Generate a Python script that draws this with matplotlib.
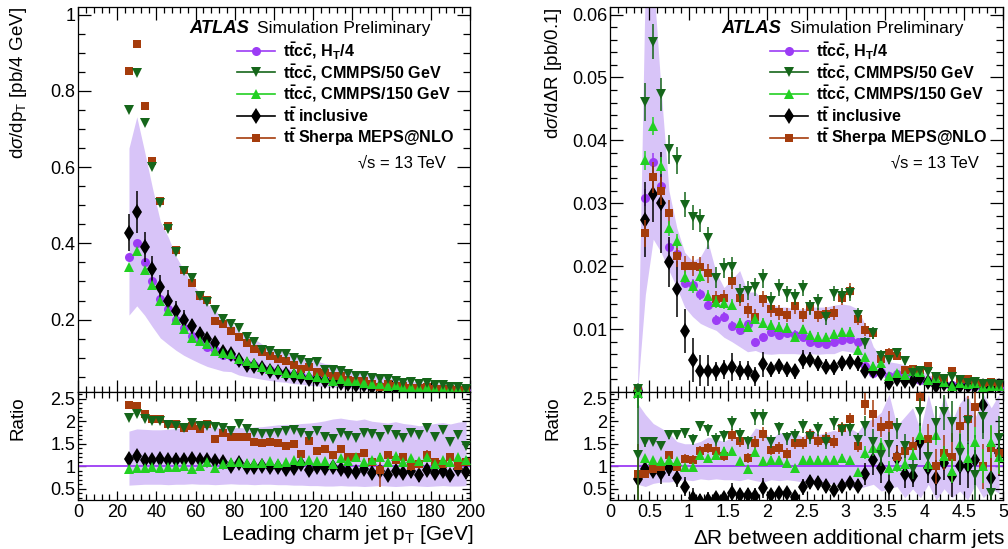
import matplotlib
matplotlib.use("Agg")
import matplotlib.pyplot as plt
import numpy as np
from matplotlib.ticker import MultipleLocator, FormatStrFormatter

plt.rcParams["font.family"] = ["Liberation Sans", "DejaVu Sans"]
plt.rcParams["mathtext.fontset"] = "custom"
plt.rcParams["mathtext.rm"] = "Liberation Sans"
plt.rcParams["mathtext.it"] = "Liberation Sans:italic"
plt.rcParams["mathtext.bf"] = "Liberation Sans:bold"

# ---------------- left: leading charm jet pT ----------------
pt = np.arange(26, 200, 4)  # bin centres, 4 GeV bins

purple_l = [0.365, 0.400, 0.352, 0.301, 0.253, 0.229, 0.199, 0.177, 0.157, 0.143, 0.128, 0.120, 0.108, 0.104, 0.091,
            0.084, 0.080, 0.072, 0.067, 0.063, 0.060, 0.055, 0.053, 0.048, 0.046, 0.042, 0.040, 0.037, 0.034, 0.032,
            0.030, 0.028, 0.026, 0.024, 0.023, 0.021, 0.020, 0.019, 0.018, 0.017, 0.016, 0.015, 0.014, 0.013]
dkgreen_l = [0.751, 0.846, 0.716, 0.599, 0.505, 0.438, 0.378, 0.328, 0.308, 0.262, 0.247, 0.226, 0.201, 0.188, 0.179,
             0.154, 0.142, 0.121, 0.118, 0.111, 0.109, 0.100, 0.095, 0.086, 0.089, 0.067, 0.068, 0.064, 0.057, 0.052,
             0.052, 0.048, 0.043, 0.043, 0.039, 0.034, 0.035, 0.032, 0.033, 0.028, 0.029, 0.023, 0.024, 0.019]
green_l = [0.339, 0.381, 0.330, 0.290, 0.249, 0.223, 0.198, 0.176, 0.152, 0.145, 0.135, 0.118, 0.112, 0.111, 0.097,
           0.091, 0.086, 0.075, 0.071, 0.068, 0.061, 0.060, 0.058, 0.054, 0.049, 0.047, 0.040, 0.044, 0.038, 0.038,
           0.033, 0.032, 0.031, 0.026, 0.028, 0.023, 0.024, 0.021, 0.022, 0.018, 0.018, 0.017, 0.017, 0.015]
black_l = [0.428, 0.481, 0.391, 0.332, 0.286, 0.248, 0.223, 0.200, 0.182, 0.163, 0.148, 0.139, 0.115, 0.109, 0.095,
           0.080, 0.077, 0.073, 0.066, 0.062, 0.058, 0.053, 0.050, 0.044, 0.045, 0.040, 0.039, 0.034, 0.031, 0.028,
           0.028, 0.024, 0.023, 0.019, 0.021, 0.018, 0.018, 0.015, 0.017, 0.014, 0.014, 0.012, 0.013, 0.011]
brown_l = [0.853, 0.924, 0.761, 0.615, 0.511, 0.446, 0.382, 0.330, 0.295, 0.262, 0.251, 0.197, 0.188, 0.170, 0.153,
           0.139, 0.124, 0.115, 0.104, 0.097, 0.091, 0.082, 0.071, 0.075, 0.063, 0.060, 0.052, 0.051, 0.041, 0.038,
           0.039, 0.031, 0.024, 0.030, 0.026, 0.025, 0.020, 0.020, 0.022, 0.019, 0.017, 0.018, 0.014, 0.014]
err_black_l = [0.048, 0.055, 0.040, 0.035, 0.032, 0.030, 0.027, 0.025, 0.020, 0.018, 0.016, 0.015, 0.013, 0.012, 0.011,
               0.010, 0.009, 0.009, 0.008, 0.007, 0.007, 0.006, 0.006, 0.005, 0.005, 0.005, 0.005, 0.004, 0.004, 0.004,
               0.004, 0.003, 0.003, 0.003, 0.003, 0.003, 0.003, 0.003, 0.002, 0.002, 0.002, 0.002, 0.002, 0.002]
err_brown_l = [0.008, 0.009, 0.008, 0.007, 0.006, 0.005, 0.005, 0.004, 0.004, 0.004, 0.003, 0.003, 0.003, 0.003, 0.003,
               0.003, 0.003, 0.002, 0.002, 0.002, 0.002, 0.002, 0.002, 0.002, 0.002, 0.002, 0.002, 0.002, 0.002, 0.002,
               0.002, 0.002, 0.010, 0.002, 0.002, 0.002, 0.002, 0.002, 0.002, 0.001, 0.001, 0.001, 0.001, 0.001]

# ratio to ttcc HT/4
dkgreen_rat_l = [2.07, 2.16, 2.04, 2.01, 2.00, 1.91, 1.89, 1.84, 1.97, 1.89, 1.90, 1.87, 1.85, 1.79, 1.94, 1.83, 1.75,
                 1.72, 1.72, 1.75, 1.78, 1.81, 1.74, 1.68, 1.79, 1.65, 1.61, 1.73, 1.68, 1.62, 1.75, 1.72, 1.65, 1.80,
                 1.70, 1.62, 1.75, 1.70, 1.85, 1.65, 1.80, 1.55, 1.70, 1.45]
brown_rat_l = [2.36, 2.33, 2.17, 2.06, 2.04, 1.95, 1.93, 1.85, 1.89, 1.83, 1.94, 1.60, 1.74, 1.65, 1.64, 1.64, 1.54,
               1.52, 1.54, 1.52, 1.46, 1.49, 1.27, 1.57, 1.33, 1.39, 1.26, 1.38, 1.20, 1.20, 1.30, 1.10, 0.92, 1.25,
               1.15, 1.20, 1.00, 1.05, 1.25, 1.10, 1.05, 1.20, 1.00, 1.10]
black_rat_l = [1.17, 1.22, 1.13, 1.15, 1.17, 1.15, 1.15, 1.13, 1.17, 1.13, 1.15, 1.11, 1.09, 1.00, 1.07, 0.99, 0.99,
               1.01, 0.99, 0.99, 0.94, 0.96, 1.04, 0.91, 0.99, 0.96, 0.99, 0.93, 0.90, 0.88, 0.95, 0.85, 0.90, 0.80,
               0.90, 0.85, 0.90, 0.80, 0.92, 0.85, 0.90, 0.80, 0.95, 0.88]
green_rat_l = [0.93, 0.96, 0.96, 0.98, 0.97, 0.99, 0.99, 1.01, 0.94, 1.01, 1.09, 0.96, 1.04, 1.09, 1.09, 1.07, 1.07,
               1.08, 1.11, 1.08, 1.09, 1.15, 1.12, 1.15, 1.11, 1.11, 1.04, 1.18, 1.12, 1.20, 1.10, 1.15, 1.20, 1.10,
               1.22, 1.10, 1.18, 1.12, 1.20, 1.05, 1.15, 1.10, 1.20, 1.15]
band_hi_l = [1.78, 1.83, 1.82, 1.81, 1.81, 1.82, 1.84, 1.86, 1.88, 1.89, 1.88, 1.87, 1.86, 1.85, 1.86, 1.85, 1.87, 1.88,
             1.90, 1.92, 1.93, 1.93, 1.95, 1.96, 1.98, 2.01, 2.05, 2.07, 2.04, 2.02, 2.05, 2.00, 1.98, 1.96, 1.99, 1.95,
             1.93, 1.90, 1.92, 1.95, 1.97, 1.94, 1.98, 2.00]
band_lo_l = [0.58, 0.59, 0.60, 0.60, 0.60, 0.59, 0.60, 0.60, 0.61, 0.60, 0.60, 0.59, 0.60, 0.61, 0.60, 0.60, 0.59, 0.60,
             0.60, 0.59, 0.59, 0.58, 0.58, 0.57, 0.57, 0.56, 0.56, 0.57, 0.56, 0.56, 0.55, 0.56, 0.57, 0.56, 0.55, 0.56,
             0.57, 0.56, 0.55, 0.56, 0.57, 0.56, 0.56, 0.57]

# ---------------- right: delta R between additional charm jets ----------------
dr = np.linspace(0.35, 4.95, 47)

purple_r = [0.0003, 0.0309, 0.0366, 0.0328, 0.0230, 0.0219, 0.0174, 0.0170, 0.0155, 0.0138, 0.0115, 0.0119, 0.0105,
            0.0098, 0.0108, 0.0079, 0.0087, 0.0096, 0.0091, 0.0094, 0.0091, 0.0087, 0.0080, 0.0078, 0.0077, 0.0080,
            0.0082, 0.0085, 0.0079, 0.0041, 0.0030, 0.0031, 0.0025, 0.0029, 0.0027, 0.0029, 0.0019, 0.0018, 0.0013,
            0.0013, 0.0011, 0.0012, 0.0010, 0.0009, 0.0008, 0.0008, 0.0008]
dkgreen_r = [0.0004, 0.0461, 0.0557, 0.0473, 0.0386, 0.0368, 0.0298, 0.0278, 0.0273, 0.0245, 0.0182, 0.0197, 0.0198,
             0.0157, 0.0161, 0.0167, 0.0181, 0.0145, 0.0166, 0.0156, 0.0151, 0.0165, 0.0135, 0.0143, 0.0119, 0.0156,
             0.0153, 0.0157, 0.0122, 0.0078, 0.0094, 0.0058, 0.0051, 0.0062, 0.0050, 0.0030, 0.0034, 0.0032, 0.0024,
             0.0020, 0.0024, 0.0019, 0.0015, 0.0016, 0.0012, 0.0013, 0.0011]
green_r = [0.0006, 0.0368, 0.0423, 0.0360, 0.0260, 0.0240, 0.0183, 0.0168, 0.0185, 0.0153, 0.0143, 0.0141, 0.0139,
           0.0109, 0.0103, 0.0116, 0.0109, 0.0107, 0.0104, 0.0102, 0.0087, 0.0100, 0.0090, 0.0088, 0.0087, 0.0092,
           0.0095, 0.0096, 0.0067, 0.0055, 0.0042, 0.0046, 0.0025, 0.0030, 0.0027, 0.0034, 0.0031, 0.0019, 0.0022,
           0.0016, 0.0010, 0.0015, 0.0012, 0.0014, 0.0008, 0.0010, 0.0009]
black_r = [0.0002, 0.0274, 0.0315, 0.0301, 0.0207, 0.0164, 0.0097, 0.0051, 0.0034, 0.0034, 0.0033, 0.0036, 0.0040,
           0.0034, 0.0034, 0.0025, 0.0044, 0.0036, 0.0041, 0.0036, 0.0033, 0.0051, 0.0051, 0.0046, 0.0040, 0.0039,
           0.0046, 0.0048, 0.0046, 0.0034, 0.0034, 0.0030, 0.0014, 0.0020, 0.0018, 0.0018, 0.0022, 0.0016, 0.0009,
           0.0012, 0.0008, 0.0010, 0.0010, 0.0010, 0.0009, 0.0006, 0.0010]
brown_r = [0.0002, 0.0252, 0.0341, 0.0319, 0.0285, 0.0216, 0.0200, 0.0200, 0.0199, 0.0189, 0.0148, 0.0149, 0.0177,
           0.0150, 0.0130, 0.0120, 0.0148, 0.0132, 0.0127, 0.0122, 0.0136, 0.0123, 0.0135, 0.0122, 0.0124, 0.0125,
           0.0150, 0.0161, 0.0116, 0.0099, 0.0093, 0.0053, 0.0062, 0.0058, 0.0035, 0.0037, 0.0035, 0.0041, 0.0026,
           0.0022, 0.0034, 0.0021, 0.0020, 0.0017, 0.0014, 0.0016, 0.0013]
err_dkgreen_r = [0.0004, 0.0030, 0.0028, 0.0026, 0.0023, 0.0022, 0.0020, 0.0020, 0.0018, 0.0018, 0.0016, 0.0016, 0.0016,
                 0.0015, 0.0015, 0.0014, 0.0015, 0.0014, 0.0014, 0.0013, 0.0013, 0.0013, 0.0012, 0.0012, 0.0012, 0.0012,
                 0.0012, 0.0012, 0.0011, 0.0009, 0.0009, 0.0008, 0.0007, 0.0007, 0.0007, 0.0006, 0.0006, 0.0006, 0.0005,
                 0.0005, 0.0005, 0.0005, 0.0005, 0.0005, 0.0004, 0.0004, 0.0004]
err_green_r = [0.0001, 0.0015, 0.0014, 0.0013, 0.0012, 0.0011, 0.0010, 0.0010, 0.0010, 0.0009, 0.0009, 0.0009, 0.0009,
               0.0008, 0.0008, 0.0008, 0.0008, 0.0008, 0.0008, 0.0008, 0.0007, 0.0007, 0.0007, 0.0007, 0.0007, 0.0007,
               0.0007, 0.0007, 0.0006, 0.0006, 0.0005, 0.0005, 0.0004, 0.0004, 0.0004, 0.0004, 0.0004, 0.0003, 0.0003,
               0.0003, 0.0003, 0.0003, 0.0003, 0.0003, 0.0003, 0.0003, 0.0003]
err_purple_r = [0.0001, 0.0014, 0.0014, 0.0013, 0.0011, 0.0010, 0.0009, 0.0009, 0.0009, 0.0008, 0.0008, 0.0008, 0.0008,
                0.0007, 0.0007, 0.0007, 0.0007, 0.0007, 0.0007, 0.0007, 0.0007, 0.0006, 0.0006, 0.0006, 0.0006, 0.0006,
                0.0006, 0.0006, 0.0006, 0.0005, 0.0004, 0.0004, 0.0004, 0.0004, 0.0004, 0.0004, 0.0003, 0.0003, 0.0003,
                0.0003, 0.0003, 0.0003, 0.0003, 0.0003, 0.0002, 0.0002, 0.0002]
err_brown_r = [0.0002, 0.0022, 0.0025, 0.0022, 0.0020, 0.0018, 0.0016, 0.0016, 0.0015, 0.0015, 0.0013, 0.0013, 0.0014,
               0.0013, 0.0012, 0.0012, 0.0013, 0.0012, 0.0012, 0.0011, 0.0012, 0.0011, 0.0011, 0.0011, 0.0011, 0.0011,
               0.0012, 0.0012, 0.0010, 0.0010, 0.0009, 0.0007, 0.0008, 0.0007, 0.0006, 0.0006, 0.0006, 0.0006, 0.0005,
               0.0005, 0.0006, 0.0005, 0.0005, 0.0004, 0.0004, 0.0004, 0.0004]
err_black_r = [0.00006, 0.0060, 0.0045, 0.0080, 0.0040, 0.0045, 0.0035, 0.0035, 0.0025, 0.0025, 0.0015, 0.0015, 0.0022,
               0.0015, 0.0015, 0.0015, 0.0020, 0.0012, 0.0012, 0.0012, 0.0012, 0.0015, 0.0012, 0.0012, 0.0012, 0.0012,
               0.0012, 0.0012, 0.0012, 0.0010, 0.0010, 0.0010, 0.0007, 0.0008, 0.0008, 0.0007, 0.0008, 0.0006, 0.0005,
               0.0005, 0.0005, 0.0005, 0.0005, 0.0005, 0.0005, 0.0004, 0.0004]
band_hi_r = [0.0008, 0.0660, 0.0660, 0.0480, 0.0320, 0.0261, 0.0222, 0.0208, 0.0215, 0.0237, 0.0190, 0.0166, 0.0179,
             0.0193, 0.0159, 0.0159, 0.0145, 0.0140, 0.0135, 0.0135, 0.0132, 0.0132, 0.0135, 0.0135, 0.0135, 0.0138,
             0.0140, 0.0138, 0.0132, 0.0106, 0.0072, 0.0056, 0.0048, 0.0046, 0.0043, 0.0041, 0.0035, 0.0027, 0.0025,
             0.0016, 0.0018, 0.0015, 0.0014, 0.0012, 0.0012, 0.0011, 0.0011]
band_lo_r = [0.0000, 0.0155, 0.0243, 0.0222, 0.0193, 0.0166, 0.0135, 0.0120, 0.0109, 0.0103, 0.0098, 0.0087, 0.0080,
             0.0072, 0.0064, 0.0066, 0.0061, 0.0060, 0.0061, 0.0061, 0.0061, 0.0060, 0.0061, 0.0060, 0.0061, 0.0061,
             0.0066, 0.0064, 0.0061, 0.0045, 0.0029, 0.0025, 0.0019, 0.0018, 0.0016, 0.0015, 0.0012, 0.0010, 0.0008,
             0.0007, 0.0006, 0.0006, 0.0005, 0.0005, 0.0005, 0.0005, 0.0005]

dkgreen_rat_r = [1.26, 1.53, 1.55, 1.46, 1.70, 1.70, 1.74, 1.59, 1.89, 1.81, 1.59, 1.68, 1.96, 1.70, 1.53, 2.10, 2.09,
                 1.55, 1.84, 1.62, 1.68, 1.89, 1.65, 1.82, 1.55, 1.96, 1.81, 1.82, 1.59, 1.89, 1.53, 1.26, 1.48, 1.84,
                 1.45, 0.93, 2.21, 1.20, 1.96, 2.20, 1.99, 1.30, 2.00, 0.80, 2.10, 0.40, 1.62]
green_rat_r = [2.62, 1.19, 1.15, 1.11, 1.15, 1.11, 0.99, 0.99, 1.24, 1.19, 1.26, 1.35, 1.33, 1.11, 0.94, 1.31, 1.11,
               1.15, 1.15, 1.07, 0.96, 1.15, 1.13, 1.13, 1.13, 1.15, 1.19, 1.13, 0.87, 1.30, 1.40, 1.47, 0.96, 1.00,
               1.04, 1.26, 1.70, 1.04, 1.70, 1.22, 0.89, 1.49, 1.19, 1.55, 1.00, 1.55, 1.20]
brown_rat_r = [0.82, 0.82, 0.94, 0.99, 1.26, 0.99, 1.17, 1.15, 1.35, 1.40, 1.33, 1.22, 1.70, 1.57, 1.19, 1.52, 1.72,
               1.37, 1.40, 1.28, 1.52, 1.52, 1.69, 1.57, 1.61, 1.55, 1.84, 2.05, 1.44, 2.38, 2.17, 1.87, 1.91, 1.20,
               1.35, 1.45, 2.53, 1.60, 1.00, 1.30, 1.20, 1.90, 2.06, 2.32, 1.00, 1.40, 1.30]
black_rat_r = [0.72, 0.93, 0.89, 0.86, 0.96, 0.74, 0.55, 0.30, 0.23, 0.25, 0.29, 0.30, 0.41, 0.37, 0.37, 0.33, 0.52,
               0.37, 0.41, 0.41, 0.32, 0.54, 0.65, 0.63, 0.56, 0.48, 0.56, 0.62, 0.57, 0.83, 1.15, 0.96, 0.54, 1.19,
               0.82, 0.78, 1.55, 0.96, 0.75, 1.07, 0.78, 1.00, 1.01, 1.15, 2.37, 0.75, 1.29]
band_hi_rat_r = [2.40, 2.15, 1.95, 1.85, 1.75, 1.55, 1.50, 1.50, 1.55, 1.65, 1.60, 1.55, 1.65, 1.55, 1.60, 1.85, 1.80,
                 1.60, 1.75, 1.70, 1.75, 1.65, 1.85, 1.70, 1.75, 1.80, 1.75, 1.85, 1.75, 2.00, 2.05, 2.20, 2.60, 1.90,
                 2.10, 2.30, 1.80, 2.60, 1.90, 2.60, 2.00, 2.40, 2.60, 2.10, 2.60, 2.30, 2.60]
band_lo_rat_r = [0.60, 0.55, 0.62, 0.65, 0.65, 0.68, 0.70, 0.68, 0.72, 0.70, 0.72, 0.70, 0.70, 0.68, 0.72, 0.68, 0.65,
                 0.70, 0.68, 0.70, 0.68, 0.65, 0.70, 0.65, 0.62, 0.60, 0.60, 0.55, 0.50, 0.55, 0.60, 0.45, 0.50, 0.55,
                 0.30, 0.50, 0.30, 0.60, 0.25, 0.50, 0.30, 0.45, 0.25, 0.60, 0.30, 0.50, 0.40]

# ---------------- style ----------------
C_PURPLE = "#9c3cf5"
C_BAND = "#d8c4f8"
C_DKGREEN = "#15661a"
C_GREEN = "#22d022"
C_BLACK = "black"
C_BROWN = "#a53c0c"

W, H = 1008, 549
fig = plt.figure(figsize=(W / 100, H / 100), dpi=100)


def box(x0, y0, x1, y1):
    return [x0 / W, 1 - y1 / H, (x1 - x0) / W, (y1 - y0) / H]


axL = fig.add_axes(box(78, 7, 470, 392))
axLr = fig.add_axes(box(78, 392, 470, 500))
axR = fig.add_axes(box(610, 7, 1003, 392))
axRr = fig.add_axes(box(610, 392, 1003, 500))


def draw(ax, x, y, yerr, color, marker, ms, z, cap):
    ax.errorbar(x, y, yerr=yerr, fmt=marker, color=color, ms=ms, mew=0, elinewidth=1.1,
                capsize=cap, capthick=1.0, zorder=z)


def style(ax, top, xmaj, xmin, ymaj, ymin):
    for s in ax.spines.values():
        s.set_linewidth(0.9)
    ax.xaxis.set_major_locator(MultipleLocator(xmaj))
    ax.xaxis.set_minor_locator(MultipleLocator(xmin))
    ax.yaxis.set_minor_locator(MultipleLocator(ymin))
    ax.yaxis.set_major_formatter(FormatStrFormatter("%g"))
    ax.xaxis.set_major_formatter(FormatStrFormatter("%g"))
    ax.tick_params(which="both", direction="in", top=True, right=True, labelsize=13, width=0.9)
    if top:
        ax.tick_params(axis="x", which="major", length=9)
        ax.tick_params(axis="x", which="minor", length=4.5)
        ax.tick_params(axis="y", which="major", length=9.5, pad=2)
        ax.tick_params(axis="y", which="minor", length=5)
        ax.tick_params(labelbottom=False)
    else:
        ax.yaxis.set_major_locator(MultipleLocator(ymaj))
        ax.tick_params(axis="x", which="major", length=6.5, pad=3)
        ax.tick_params(axis="x", which="minor", length=4)
        ax.tick_params(axis="y", which="major", length=6, pad=2)
        ax.tick_params(axis="y", which="minor", length=3)


def legend(ax):
    tr = ax.transAxes
    ax.text(0.284, 0.943, "ATLAS", fontsize=13.2, fontweight="bold", style="italic", va="center", transform=tr)
    ax.text(0.457, 0.943, "Simulation Preliminary", fontsize=12.5, va="center", transform=tr)
    entries = [(r"$\mathbf{t\bar{t}c\bar{c}}$, H$_\mathbf{T}$/4", C_PURPLE, "o", 6.5),
               (r"$\mathbf{t\bar{t}c\bar{c}}$, CMMPS/50 GeV", C_DKGREEN, "v", 7),
               (r"$\mathbf{t\bar{t}c\bar{c}}$, CMMPS/150 GeV", C_GREEN, "^", 7),
               (r"$\mathbf{t\bar{t}}$ inclusive", C_BLACK, "d", 8.5),
               (r"$\mathbf{t\bar{t}}$ Sherpa MEPS@NLO", C_BROWN, "s", 6)]
    ys = [0.8865, 0.830, 0.774, 0.717, 0.661]
    for (lab, col, mk, ms), y in zip(entries, ys):
        ax.plot([0.406, 0.503], [y, y], color=col, lw=1.2, transform=tr, clip_on=False, zorder=10)
        ax.plot([0.4545], [y], marker=mk, color=col, ms=ms, mew=0, transform=tr, clip_on=False, zorder=11)
        ax.text(0.523, y, lab, fontsize=11.6, fontweight="bold", va="center", transform=tr)
    ax.text(0.939, 0.595, "\u221as = 13 TeV", fontsize=12, ha="right", va="center", transform=tr)


# ---- left top ----
purple_l_a = np.array(purple_l)
axL.fill_between(pt, purple_l_a * np.array(band_lo_l), purple_l_a * np.array(band_hi_l), color=C_BAND, lw=0, zorder=1)
draw(axL, pt, purple_l, None, C_PURPLE, "o", 6.5, 3, 0)
draw(axL, pt, black_l, err_black_l, C_BLACK, "d", 8.5, 4, 3)
draw(axL, pt, brown_l, None, C_BROWN, "s", 6, 5, 0)
draw(axL, pt, green_l, None, C_GREEN, "^", 7, 6, 0)
draw(axL, pt, dkgreen_l, None, C_DKGREEN, "v", 7, 7, 0)
axL.set_xlim(0, 200)
axL.set_ylim(0.01, 1.02)
axL.set_yticks([0.2, 0.4, 0.6, 0.8, 1.0])
style(axL, True, 20, 4, 0.2, 0.05)
legend(axL)
axL.text(-0.153, 1.0, r"d$\sigma$/dp$_\mathregular{T}$ [pb/4 GeV]", rotation=90, ha="center", va="top",
         fontsize=13.5, transform=axL.transAxes)

# ---- left ratio ----
axLr.fill_between(pt, band_lo_l, band_hi_l, color=C_BAND, lw=0, zorder=1)
axLr.axhline(1.0, color=C_PURPLE, lw=1.3, zorder=2)
draw(axLr, pt, black_rat_l, np.array(err_black_l) / purple_l_a, C_BLACK, "d", 8.5, 4, 3)
draw(axLr, pt, brown_rat_l, np.array(err_brown_l) / purple_l_a, C_BROWN, "s", 6, 5, 0)
draw(axLr, pt, green_rat_l, None, C_GREEN, "^", 7, 6, 0)
draw(axLr, pt, dkgreen_rat_l, None, C_DKGREEN, "v", 7, 7, 0)
axLr.set_xlim(0, 200)
axLr.set_ylim(0.25, 2.65)
style(axLr, False, 20, 4, 0.5, 0.1)
axLr.text(-0.153, 0.96, "Ratio", rotation=90, ha="center", va="top", fontsize=13.5, transform=axLr.transAxes)
axLr.text(1.01, -0.215, r"Leading charm jet p$_\mathregular{T}$ [GeV]", ha="right", va="top", fontsize=15,
          transform=axLr.transAxes)

# ---- right top ----
purple_r_a = np.array(purple_r)
axR.fill_between(dr, band_lo_r, band_hi_r, color=C_BAND, lw=0, zorder=1)
draw(axR, dr, purple_r, err_purple_r, C_PURPLE, "o", 6.5, 3, 0)
draw(axR, dr, black_r, err_black_r, C_BLACK, "d", 8.5, 4, 3)
draw(axR, dr, brown_r, err_brown_r, C_BROWN, "s", 6, 5, 0)
draw(axR, dr, green_r, err_green_r, C_GREEN, "^", 7, 6, 0)
draw(axR, dr, dkgreen_r, err_dkgreen_r, C_DKGREEN, "v", 7, 7, 0)
axR.set_xlim(0, 5)
axR.set_ylim(0.0, 0.0612)
axR.set_yticks([0.01, 0.02, 0.03, 0.04, 0.05, 0.06])
style(axR, True, 0.5, 0.1, 0.01, 0.002)
legend(axR)
axR.text(-0.145, 1.0, r"d$\sigma$/d$\Delta$R [pb/0.1]", rotation=90, ha="center", va="top",
         fontsize=13.5, transform=axR.transAxes)

# ---- right ratio ----
axRr.fill_between(dr, band_lo_rat_r, band_hi_rat_r, color=C_BAND, lw=0, zorder=1)
axRr.axhline(1.0, color=C_PURPLE, lw=1.3, zorder=2)
draw(axRr, dr, black_rat_r, np.array(err_black_r) / purple_r_a, C_BLACK, "d", 8.5, 4, 3)
draw(axRr, dr, brown_rat_r, np.array(err_brown_r) / purple_r_a, C_BROWN, "s", 6, 5, 0)
draw(axRr, dr, green_rat_r, np.array(err_green_r) / purple_r_a, C_GREEN, "^", 7, 6, 0)
draw(axRr, dr, dkgreen_rat_r, np.array(err_dkgreen_r) / purple_r_a, C_DKGREEN, "v", 7, 7, 0)
axRr.set_xlim(0, 5)
axRr.set_ylim(0.25, 2.65)
style(axRr, False, 0.5, 0.1, 0.5, 0.1)
axRr.text(-0.145, 0.96, "Ratio", rotation=90, ha="center", va="top", fontsize=13.5, transform=axRr.transAxes)
axRr.text(1.005, -0.25, r"$\Delta$R between additional charm jets", ha="right", va="top", fontsize=15,
          transform=axRr.transAxes)

fig.savefig("out.png", dpi=100)
